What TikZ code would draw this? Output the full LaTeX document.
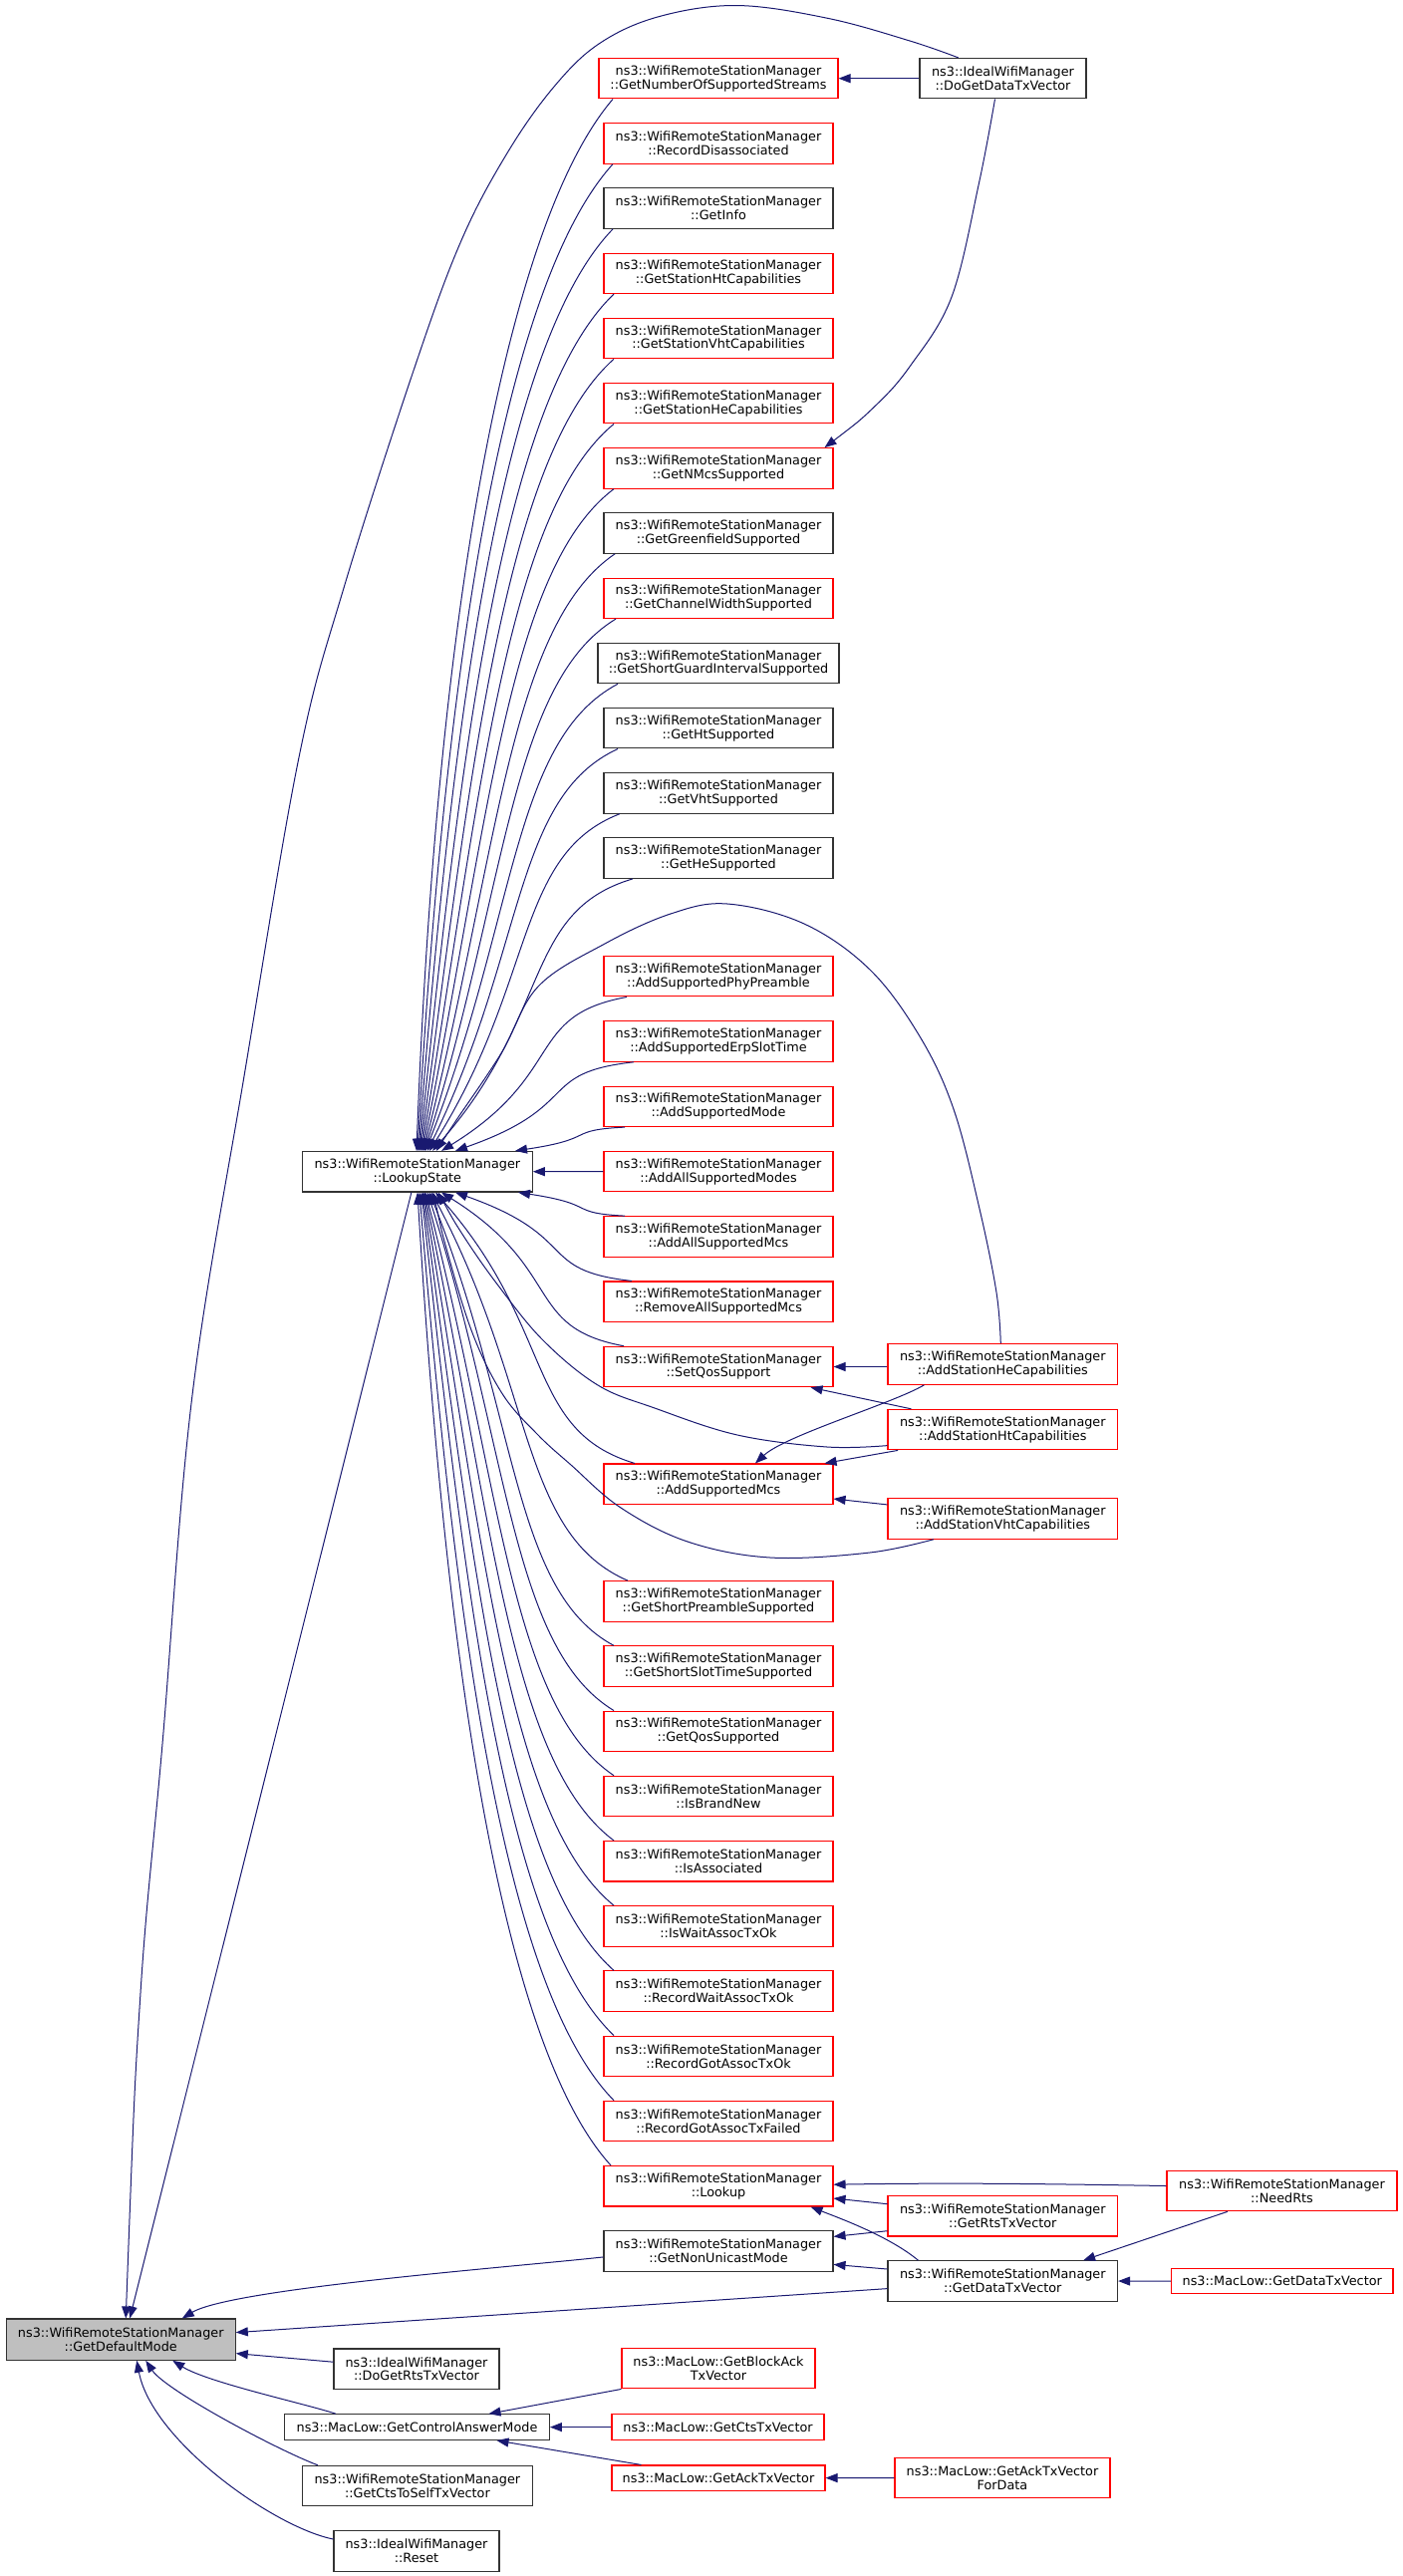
\documentclass[tikz,border=0pt]{standalone}
\usepackage{fontspec}
\setmainfont{DejaVu Sans}
\usetikzlibrary{arrows.meta,calc}
\definecolor{edgeblue}{HTML}{191970}
\definecolor{boxgray}{HTML}{BFBFBF}
\newcommand\NB[7]{\node[#2,minimum width={#5*0.75pt},minimum height={#6*0.75pt}] (#1) at (#3,#4) {#7};}
\newcommand\upfan[4]{%
 \pgfmathsetmacro\Lf{1155.4-#4}%
 \pgfmathsetmacro\Df{#2-#3}%
 \pgfmathsetmacro\kf{0.1+0.000638*(1056-\Lf)}%
 \draw[lnk] ($(ls.north)+({#3-418.9},0)$) .. controls +({\kf*\Df},{-0.5*\Lf}) and +({-0.55*\Df},{0.12*\Lf}) .. ($(#1.south)+({#2-721},0)$);}
\newcommand\lowfan[4]{%
 \pgfmathsetmacro\Lf{#4-1196}%
 \pgfmathsetmacro\Df{#2-#3}%
 \pgfmathsetmacro\kf{0.1+0.000638*(1056-\Lf)}%
 \draw[lnk] ($(ls.south)+({#3-418.9},0)$) .. controls +({\kf*\Df},{0.5*\Lf}) and +({-0.55*\Df},{-0.12*\Lf}) .. ($(#1.north)+({#2-721},0)$);}
\begin{document}
\begin{tikzpicture}[x=0.75pt,y=-0.75pt,
 box/.style={draw,rectangle,align=center,inner sep=0pt,line width=0.8pt,font=\fontsize{9.6pt}{10.4pt}\selectfont},
 rbox/.style={box,draw=red},
 kbox/.style={box,draw=black!80},
 gbox/.style={box,draw=black!80,fill=boxgray},
 lnk/.style={draw=edgeblue,line width=0.75pt,{Triangle[length=9pt,width=6.75pt]}-}]
\useasboundingbox (0,0) rectangle (1408,2585);
\def\W{ns3::WifiRemoteStationManager\\}
% nodes
\NB{gnss}{rbox}{721}{78.7}{240}{40.5}{\W::GetNumberOfSupportedStreams}
\NB{ideal}{kbox}{1006.5}{78.7}{167}{40.5}{ns3::IdealWifiManager\\::DoGetDataTxVector}
\NB{rd}{rbox}{721}{143.9}{230}{40.5}{\W::RecordDisassociated}
\NB{gi}{kbox}{721}{209.1}{230}{40.5}{\W::GetInfo}
\NB{gsht}{rbox}{721}{274.3}{230}{40.5}{\W::GetStationHtCapabilities}
\NB{gsvht}{rbox}{721}{339.5}{230}{40.5}{\W::GetStationVhtCapabilities}
\NB{gshe}{rbox}{721}{404.7}{230}{40.5}{\W::GetStationHeCapabilities}
\NB{gnmcs}{rbox}{721}{469.9}{230}{40.5}{\W::GetNMcsSupported}
\NB{ggf}{kbox}{721}{535.1}{230}{40.5}{\W::GetGreenfieldSupported}
\NB{gcw}{rbox}{721}{600.3}{230}{40.5}{\W::GetChannelWidthSupported}
\NB{gsgi}{kbox}{721}{665.5}{242}{40.5}{\W::GetShortGuardIntervalSupported}
\NB{ght}{kbox}{721}{730.7}{230}{40.5}{\W::GetHtSupported}
\NB{gvht}{kbox}{721}{795.9}{230}{40.5}{\W::GetVhtSupported}
\NB{ghe}{kbox}{721}{861.1}{230}{40.5}{\W::GetHeSupported}
\NB{asp}{rbox}{721}{979.7}{230}{40.5}{\W::AddSupportedPhyPreamble}
\NB{aset}{rbox}{721}{1045}{230}{40.5}{\W::AddSupportedErpSlotTime}
\NB{asm}{rbox}{721}{1110.3}{230}{40.5}{\W::AddSupportedMode}
\NB{aasmodes}{rbox}{721}{1175.6}{230}{40.5}{\W::AddAllSupportedModes}
\NB{aasmcs}{rbox}{721}{1240.9}{230}{40.5}{\W::AddAllSupportedMcs}
\NB{rasm}{rbox}{721}{1306.2}{230}{40.5}{\W::RemoveAllSupportedMcs}
\NB{sqs}{rbox}{721}{1371.5}{230}{40.5}{\W::SetQosSupport}
\NB{asmcs}{rbox}{721}{1489.2}{230}{40.5}{\W::AddSupportedMcs}
\NB{gsps}{rbox}{721}{1606.9}{230}{40.5}{\W::GetShortPreambleSupported}
\NB{gssts}{rbox}{721}{1672.1}{230}{40.5}{\W::GetShortSlotTimeSupported}
\NB{gqs}{rbox}{721}{1737.3}{230}{40.5}{\W::GetQosSupported}
\NB{ibn}{rbox}{721}{1802.5}{230}{40.5}{\W::IsBrandNew}
\NB{ia}{rbox}{721}{1867.7}{230}{40.5}{\W::IsAssociated}
\NB{iwat}{rbox}{721}{1932.9}{230}{40.5}{\W::IsWaitAssocTxOk}
\NB{rwat}{rbox}{721}{1998.1}{230}{40.5}{\W::RecordWaitAssocTxOk}
\NB{rgat}{rbox}{721}{2063.3}{230}{40.5}{\W::RecordGotAssocTxOk}
\NB{rgatf}{rbox}{721}{2128.5}{230}{40.5}{\W::RecordGotAssocTxFailed}
\NB{lu}{rbox}{721}{2193.7}{230}{40.5}{\W::Lookup}
\NB{gnum}{kbox}{721}{2258.9}{230}{40.5}{\W::GetNonUnicastMode}
\NB{ahe}{rbox}{1006.3}{1369}{230.6}{40.5}{\W::AddStationHeCapabilities}
\NB{aht}{rbox}{1006.3}{1434.6}{230.6}{40.5}{\W::AddStationHtCapabilities}
\NB{avht}{rbox}{1006.3}{1523.9}{230.6}{40.5}{\W::AddStationVhtCapabilities}
\NB{grts}{rbox}{1006.3}{2223.7}{230.6}{40.5}{\W::GetRtsTxVector}
\NB{gdtx}{kbox}{1006.3}{2289}{230.6}{40.5}{\W::GetDataTxVector}
\NB{nrts}{rbox}{1286.5}{2198.5}{231}{40.5}{\W::NeedRts}
\NB{mgdtx}{rbox}{1286.75}{2289.2}{222.5}{25.4}{ns3::MacLow::GetDataTxVector}
\NB{ls}{kbox}{418.9}{1175.7}{230.8}{40.6}{\W::LookupState}
\NB{gdm}{gbox}{121.25}{2347.6}{230}{41.3}{\W::GetDefaultMode}
\NB{dgrts}{kbox}{418}{2377.2}{166}{40.5}{ns3::IdealWifiManager\\::DoGetRtsTxVector}
\NB{gcam}{kbox}{418.5}{2435.6}{265.8}{25.7}{ns3::MacLow::GetControlAnswerMode}
\NB{gctsself}{kbox}{418.9}{2494.6}{230.8}{40.6}{\W::GetCtsToSelfTxVector}
\NB{reset}{kbox}{418}{2560}{166}{40.6}{ns3::IdealWifiManager\\::Reset}
\NB{gbat}{rbox}{721}{2376.6}{194}{40.6}{ns3::MacLow::GetBlockAck\\TxVector}
\NB{gcts}{rbox}{720.5}{2435.6}{213}{25.7}{ns3::MacLow::GetCtsTxVector}
\NB{gack}{rbox}{721}{2486.6}{214}{25.3}{ns3::MacLow::GetAckTxVector}
\NB{gackfd}{rbox}{1006}{2486.5}{216}{40.3}{ns3::MacLow::GetAckTxVector\\ForData}
% long edges into GetDefaultMode
\draw[lnk] plot[smooth,tension=0.6] coordinates {($(gdm.north)+(5,0)$) (141,2000) (163,1750) (193,1400) (245,1080) (300,760) (345,590) (418,363) (464,239) (510,152) (556,87) (601,44) (660,17) (739,5.5) (831,18.4) (914,41.3) ($(ideal.north)+(-44.7,0)$)};
\draw[lnk] ($(gdm.north)+(9,0)$) -- ($(ls.south)+(-6,0)$);
\draw[lnk] ($(gdm.north east)+(-54,0)$) .. controls +(50,-30) and +(-90,10) .. ($(gnum.west)+(0,6)$);
\draw[lnk] ($(gdm.east)+(0,-7)$) -- ($(gdtx.west)+(0,7.6)$);
\draw[lnk] ($(gdm.east)+(0,14)$) -- ($(dgrts.west)+(0,-7)$);
\draw[lnk] ($(gdm.south)+(52,0)$) .. controls +(35,22) and +(-30,-10) .. ($(gcam.north west)+(52,0)$);
\draw[lnk] ($(gdm.south)+(25,0)$) .. controls +(20,30) and +(-40,-15) .. ($(gctsself.north west)+(16,0)$);
\draw[lnk] ($(gdm.south)+(16,0)$) .. controls +(15,80) and +(-60,-12) .. ($(reset.west)+(0,-12)$);
% IdealWifiManager::DoGetDataTxVector
\draw[lnk] (gnss.east) -- (ideal.west);
\draw[lnk] plot[smooth,tension=0.6] coordinates {($(gnmcs.north east)+(-9,0)$) (877,408.6) (913.6,367) (955,298) (982.5,183.6) ($(ideal.south)+(-8,0)$)};
% fan into LookupState (top)
\upfan{gnss}{615}{418}{98.95}
\upfan{rd}{615}{419}{164.15}
\upfan{gi}{615}{420}{229.35}
\upfan{gsht}{616}{421}{294.55}
\upfan{gsvht}{616}{422}{359.75}
\upfan{gshe}{616}{423}{424.95}
\upfan{gnmcs}{616}{424}{490.15}
\upfan{ggf}{617}{425}{555.35}
\upfan{gcw}{618}{426}{620.55}
\upfan{gsgi}{620}{427}{685.75}
\upfan{ght}{620}{429}{750.95}
\upfan{gvht}{622}{431}{816.15}
\upfan{ghe}{635}{434}{881.35}
\upfan{asp}{629}{443}{999.95}
\upfan{aset}{636}{457}{1065.25}
\upfan{asm}{627}{517}{1130.55}
\draw[lnk] (ls.east) -- (aasmodes.west);
% fan into LookupState (bottom)
\lowfan{aasmcs}{627}{520}{1220.65}
\lowfan{rasm}{634}{457}{1285.95}
\lowfan{sqs}{626}{443}{1351.25}
\lowfan{asmcs}{637}{437}{1468.95}
\lowfan{gsps}{630}{433}{1586.65}
\lowfan{gssts}{616}{431}{1651.85}
\lowfan{gqs}{616}{429}{1717.05}
\lowfan{ibn}{616}{427}{1782.25}
\lowfan{ia}{616}{426}{1847.45}
\lowfan{iwat}{616}{425}{1912.65}
\lowfan{rwat}{616}{424}{1977.85}
\lowfan{rgat}{616}{423}{2043.05}
\lowfan{rgatf}{616}{421}{2108.25}
\lowfan{lu}{613}{419}{2173.45}
% station capabilities
\draw[lnk] plot[smooth,tension=0.6] coordinates {($(ls.north)+(19,0)$) (458,1124) (503,1057) (540,990) (607,947) (673,917) (730,907) (807,927) (873,973) (923,1040) (957,1113) (983,1213) (1000,1297) ($(ahe.north)+(-2,0)$)};
\draw[lnk] (sqs.east) -- (sqs.east -| ahe.west);
\draw[lnk] ($(asmcs.north)+(37,0)$) .. controls +(30,-28) and +(-30,18) .. ($(ahe.south west)+(37,0)$);
\draw[lnk] ($(sqs.south east)+(-23,0)$) -- ($(aht.north west)+(24,0)$);
\draw[lnk] plot[smooth,tension=0.6] coordinates {($(ls.south)+(21,0)$) (465,1240) (500,1290) (545,1345) (600,1390) (657,1413) (740,1440) (830,1452) ($(aht.west)+(0,16)$)};
\draw[lnk] ($(asmcs.north east)+(-9,0)$) -- ($(aht.south west)+(10.7,0)$);
\draw[lnk] ($(asmcs.east)+(0,14.8)$) -- ($(avht.west)+(0,-14)$);
\draw[lnk] plot[smooth,tension=0.6] coordinates {($(ls.south)+(16,0)$) (450,1260) (475,1340) (505,1400) (540,1440) (573,1470) (623,1513) (690,1547) (773,1563) (873,1558) ($(avht.south)+(-69.3,0)$)};
% Lookup / data tx vector
\draw[lnk] ($(lu.east)+(0,-1.5)$) .. controls +(120,-2) and +(-120,-2) .. ($(nrts.west)+(0,-5)$);
\draw[lnk] ($(lu.east)+(0,12.3)$) -- ($(grts.west)+(0,-12)$);
\draw[lnk] ($(lu.south east)+(-23,0)$) .. controls +(25,10) and +(-30,-25) .. ($(gdtx.north west)+(31,0)$);
\draw[lnk] ($(gnum.east)+(0,-14.5)$) -- ($(grts.west)+(0,15)$);
\draw[lnk] ($(gnum.east)+(0,13.5)$) -- ($(gdtx.west)+(0,-12)$);
\draw[lnk] ($(gdtx.north east)+(-35,0)$) -- ($(nrts.south)+(-54.5,0)$);
\draw[lnk] (gdtx.east) -- (mgdtx.west);
% MacLow
\draw[lnk] ($(gcam.north)+(72,0)$) -- (gbat.south west);
\draw[lnk] (gcam.east) -- (gcts.west);
\draw[lnk] ($(gcam.south)+(80,0)$) -- ($(gack.north west)+(30,0)$);
\draw[lnk] (gack.east) -- (gackfd.west);
\end{tikzpicture}
\end{document}
